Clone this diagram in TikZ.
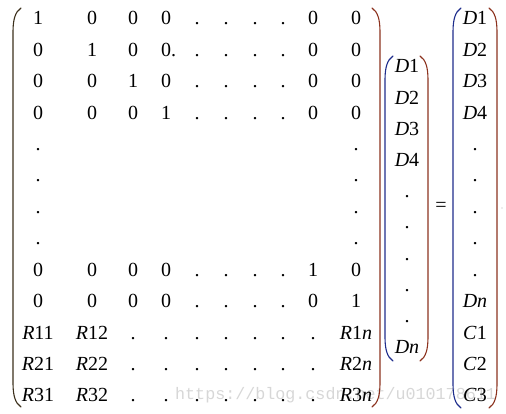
\documentclass[tikz,border=0pt]{standalone}
\usepackage{fontspec}
\setmainfont{Liberation Serif}
\newfontfamily\wmfont{Liberation Mono}
\definecolor{parA}{RGB}{60,48,28}
\definecolor{parL}{RGB}{30,45,140}
\definecolor{parR}{RGB}{140,50,30}
\definecolor{wm}{RGB}{215,215,215}
\newcommand\mylpar[4]{%
  \draw[parline,#4] (#1+8,#2) .. controls (#1+2,#2+4) and (#1,#2+12) .. (#1,#2+24)
    -- (#1,#3-24) .. controls (#1,#3-12) and (#1+2,#3-4) .. (#1+8,#3);}
\newcommand\myrpar[4]{%
  \draw[parline,#4] (#1-8,#2) .. controls (#1-2,#2+4) and (#1,#2+12) .. (#1,#2+24)
    -- (#1,#3-24) .. controls (#1,#3-12) and (#1-2,#3-4) .. (#1-8,#3);}
\begin{document}
\begin{tikzpicture}[x=1pt,y=-1pt,
  ent/.style={anchor=base,inner sep=0pt,font=\fontsize{20}{22}\selectfont},
  parline/.style={line width=1.1pt,line cap=round},
  wmark/.style={anchor=base west,inner sep=0pt,text=wm,font=\wmfont\fontsize{16.7}{18}\selectfont}]
\useasboundingbox (0,0) rectangle (506,414);
% watermark
\node[wmark] (wmtext) at (175,399) {https://blog.csdn.net/u010178611};
% big matrix entries
\foreach \row [count=\r] in {
  {1,0,0,0,.,.,.,.,0,0},
  {0,1,0,0\rlap{.},.,.,.,.,0,0},
  {0,0,1,0,.,.,.,.,0,0},
  {0,0,0,1,.,.,.,.,0,0}}{
  \foreach \e [count=\c] in \row {
    \pgfmathsetmacro{\xx}{{38,92,133,166,197,226,255,283,313,356}[\c-1]}
    \pgfmathsetmacro{\yy}{25+(\r-1)*31.4}
    \node[ent] (m-\r-\c) at (\xx,\yy) {\e};
  }
}
\foreach \r in {5,6,7,8}{
  \pgfmathsetmacro{\yy}{25+(\r-1)*31.4}
  \node[ent] (m-\r-1) at (38,\yy) {.};
  \node[ent] (m-\r-10) at (356,\yy) {.};
}
\foreach \row [count=\rr] in {
  {0,0,0,0,.,.,.,.,1,0},
  {0,0,0,0,.,.,.,.,0,1},
  {\textit{R}11,\textit{R}12,.,.,.,.,.,.,.,\textit{R}1\textit{n}},
  {\textit{R}21,\textit{R}22,.,.,.,.,.,.,.,\textit{R}2\textit{n}},
  {\textit{R}31,\textit{R}32,.,.,.,.,.,.,.,\textit{R}3\textit{n}}}{
  \foreach \e [count=\c] in \row {
    \pgfmathtruncatemacro{\r}{\rr+8}
    \pgfmathsetmacro{\xx}{{38,92,133,166,197,226,255,283,313,356}[\c-1]}
    \pgfmathsetmacro{\yy}{25+(\r-1)*31.4}
    \node[ent] (m-\r-\c) at (\xx,\yy) {\e};
  }
}
% middle vector
\foreach \e [count=\r] in {\textit{D}1,\textit{D}2,\textit{D}3,\textit{D}4,.,.,.,.,.,\textit{Dn}}{
  \pgfmathsetmacro{\yy}{73+(\r-1)*31.2}
  \node[ent] (v-\r) at (407,\yy) {\e};
}
% right vector
\foreach \e [count=\r] in {\textit{D}1,\textit{D}2,\textit{D}3,\textit{D}4,.,.,.,.,.,\textit{Dn},\textit{C}1,\textit{C}2,\textit{C}3}{
  \pgfmathsetmacro{\yy}{25+(\r-1)*31.4}
  \node[ent] (w-\r) at (475,\yy) {\e};
}
% equals sign
\node[ent,anchor=center] (eq) at (441,207) {=};
% brackets
\mylpar{13}{8}{407}{parA}
\myrpar{380}{8}{407}{parR}
\mylpar{385}{56}{361}{parL}
\myrpar{428}{56}{361}{parR}
\mylpar{453}{8}{408}{parL}
\myrpar{497}{8}{408}{parR}
\fill[gray!60] (502,208) circle (0.7);
\end{tikzpicture}
\end{document}
